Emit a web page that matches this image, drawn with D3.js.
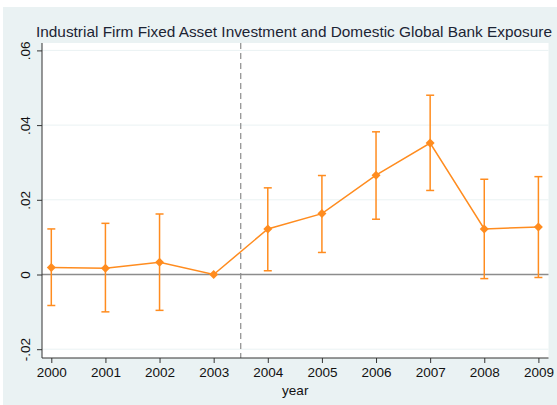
<!DOCTYPE html>
<html>
<head>
<meta charset="utf-8">
<script src="https://cdn.jsdelivr.net/npm/d3@7"></script>
<style>
  html, body { margin: 0; padding: 0; background: #ffffff; }
  svg { display: block; }
  text { font-family: "Liberation Sans", Arial, sans-serif; }
</style>
</head>
<body>
<svg id="chart" width="557" height="405"></svg>
<script>
// Estimated coefficients by year with 95% confidence bounds
const years = [2000, 2001, 2002, 2003, 2004, 2005, 2006, 2007, 2008, 2009];
const coef  = [0.0019, 0.0017, 0.0033, 0.0, 0.0122, 0.0163, 0.0266, 0.0352, 0.0122, 0.0127];
const upper = [0.0122, 0.0137, 0.0162, 0.0, 0.0232, 0.0265, 0.0382, 0.0480, 0.0255, 0.0262];
const lower = [-0.0083, -0.0100, -0.0096, 0.0, 0.0010, 0.0059, 0.0148, 0.0225, -0.0011, -0.0008];
const yTicks = [-0.02, 0, 0.02, 0.04, 0.06];
const yTickLabels = ["-.02", "0", ".02", ".04", ".06"];
const breakYear = 2003.5;
const title = "Industrial Firm Fixed Asset Investment and Domestic Global Bank Exposure";
const xTitle = "year";

const W = 557, H = 405;
const plot = { left: 42, right: 548.5, top: 43, bottom: 358 };
const orange = "#ff8c1f";
const bg = "#eaf2f3";

const svg = d3.select("#chart");

// outer panel
svg.append("rect").attr("x", 3).attr("y", 7).attr("width", W - 3).attr("height", H - 7).attr("fill", bg);
// plot region
svg.append("rect")
  .attr("x", plot.left).attr("y", plot.top)
  .attr("width", plot.right - plot.left).attr("height", plot.bottom - plot.top)
  .attr("fill", "#ffffff");

const x = d3.scaleLinear().domain([2000, 2009]).range([51.3, 538.4]);
const y = d3.scaleLinear().domain([0, 0.06]).range([274.5, 50.4]);

// horizontal gridlines
svg.append("g").selectAll("line")
  .data(yTicks.filter(v => v !== 0))
  .join("line")
  .attr("x1", plot.left).attr("x2", plot.right)
  .attr("y1", d => y(d)).attr("y2", d => y(d))
  .attr("stroke", bg).attr("stroke-width", 1);

// zero reference line
svg.append("line")
  .attr("x1", plot.left).attr("x2", plot.right)
  .attr("y1", y(0)).attr("y2", y(0))
  .attr("stroke", "#8c8c8c").attr("stroke-width", 1.3);

// vertical break line
svg.append("line")
  .attr("x1", x(breakYear)).attr("x2", x(breakYear))
  .attr("y1", plot.top).attr("y2", plot.bottom)
  .attr("stroke", "#8c8c8c").attr("stroke-width", 1.2)
  .attr("stroke-dasharray", "6,4");

// axes
const yAxis = d3.axisLeft(y)
  .tickValues(yTicks)
  .tickFormat((d, i) => yTickLabels[i])
  .tickSize(5).tickPadding(5);
const gy = svg.append("g").attr("transform", `translate(${plot.left},0)`).call(yAxis);
gy.select(".domain").attr("d", `M0,${plot.top}V${plot.bottom}`).attr("stroke", "#333");
gy.selectAll(".tick line").attr("stroke", "#333");
gy.selectAll(".tick text")
  .attr("font-size", 13.5).attr("fill", "#111")
  .attr("font-family", "Liberation Sans, Arial, sans-serif")
  .attr("x", null).attr("dy", null)
  .attr("text-anchor", "middle")
  .attr("transform", "translate(-12,0) rotate(-90)")
  .attr("y", 0).attr("dominant-baseline", "auto");

const xAxis = d3.axisBottom(x)
  .tickValues(years)
  .tickFormat(d3.format("d"))
  .tickSize(5).tickPadding(4);
const gx = svg.append("g").attr("transform", `translate(0,${plot.bottom})`).call(xAxis);
gx.select(".domain").attr("d", `M${plot.left},0H${plot.right}`).attr("stroke", "#333");
gx.selectAll(".tick line").attr("stroke", "#333");
gx.selectAll(".tick text")
  .attr("font-size", 13.5).attr("fill", "#111")
  .attr("font-family", "Liberation Sans, Arial, sans-serif");

svg.append("text")
  .attr("x", (plot.left + plot.right) / 2).attr("y", 395)
  .attr("text-anchor", "middle").attr("font-size", 13.5).attr("fill", "#111")
  .text(xTitle);

// title
svg.append("text")
  .attr("x", 36).attr("y", 37)
  .attr("font-size", 14.5).attr("fill", "#1c2434")
  .attr("textLength", 516).attr("lengthAdjust", "spacingAndGlyphs")
  .text(title);

const data = years.map((yr, i) => ({ yr, c: coef[i], lo: lower[i], hi: upper[i] }));

// confidence intervals
const ci = svg.append("g").attr("stroke", orange).attr("stroke-width", 1.5);
ci.selectAll("line.ci").data(data.filter(d => d.hi !== d.lo)).join("line")
  .attr("class", "ci")
  .attr("x1", d => x(d.yr)).attr("x2", d => x(d.yr))
  .attr("y1", d => y(d.hi)).attr("y2", d => y(d.lo));
ci.selectAll("line.capHi").data(data.filter(d => d.hi !== d.lo)).join("line")
  .attr("class", "capHi")
  .attr("x1", d => x(d.yr) - 4).attr("x2", d => x(d.yr) + 4)
  .attr("y1", d => y(d.hi)).attr("y2", d => y(d.hi));
ci.selectAll("line.capLo").data(data.filter(d => d.hi !== d.lo)).join("line")
  .attr("class", "capLo")
  .attr("x1", d => x(d.yr) - 4).attr("x2", d => x(d.yr) + 4)
  .attr("y1", d => y(d.lo)).attr("y2", d => y(d.lo));

// connecting line
svg.append("path")
  .datum(data)
  .attr("fill", "none").attr("stroke", orange).attr("stroke-width", 1.5)
  .attr("d", d3.line().x(d => x(d.yr)).y(d => y(d.c)));

// diamond markers
svg.append("g").selectAll("path").data(data).join("path")
  .attr("transform", d => `translate(${x(d.yr)},${y(d.c)})`)
  .attr("d", "M0,-4.5L4.5,0L0,4.5L-4.5,0Z")
  .attr("fill", orange);
</script>
</body>
</html>
